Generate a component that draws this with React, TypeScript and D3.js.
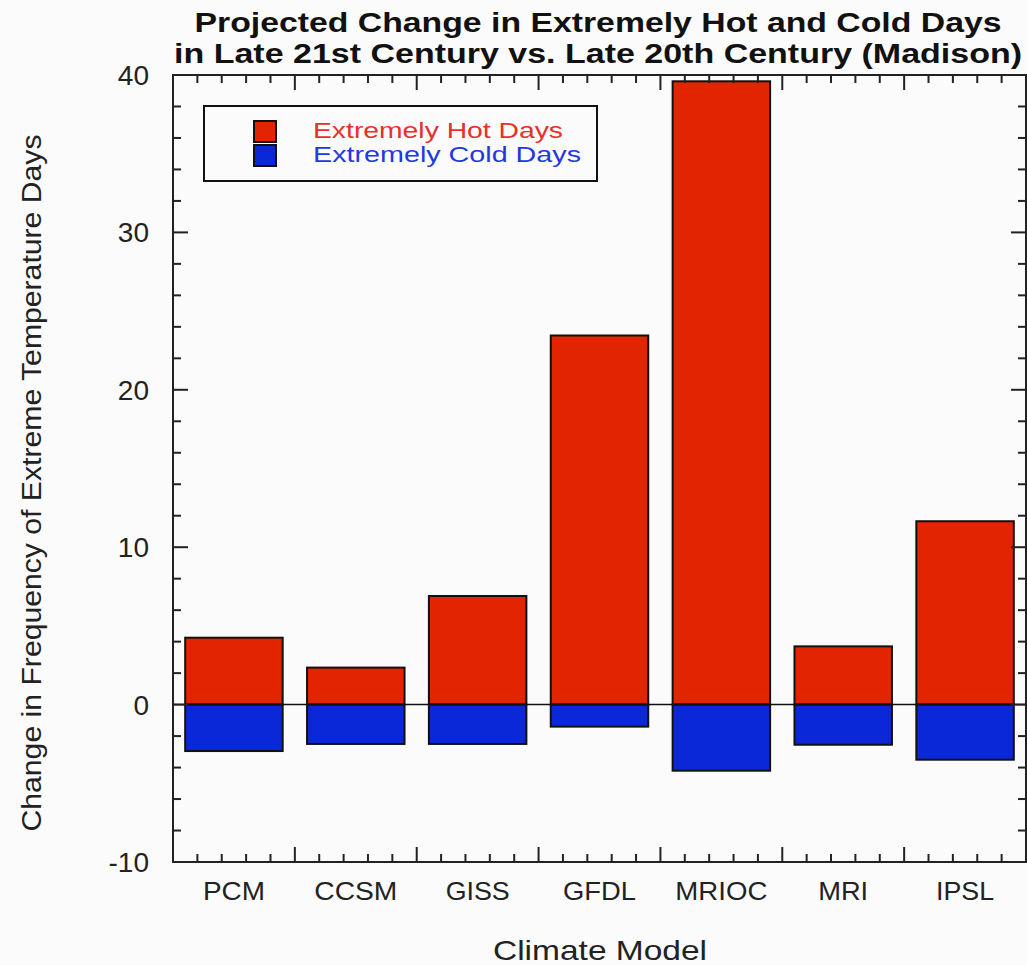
import React from "react";
import * as d3 from "d3";

// Climate models and projected change in extreme-temperature days
const models = ["PCM", "CCSM", "GISS", "GFDL", "MRIOC", "MRI", "IPSL"];
const hotDays = [4.25, 2.35, 6.9, 23.45, 39.6, 3.7, 11.65];
const coldDays = [-2.95, -2.5, -2.5, -1.4, -4.2, -2.55, -3.5];
const yTicks = [-10, 0, 10, 20, 30, 40];

const W = 1027;
const H = 965;
const M = { left: 173, right: 1026, top: 75, bottom: 862 };

const HOT = "#e22400";
const COLD = "#0a28d8";
const FONT = "'Liberation Sans', Arial, Helvetica, sans-serif";

export default function App() {
  const y = d3.scaleLinear().domain([-10, 40]).range([M.bottom, M.top]);
  const x = d3
    .scaleBand<string>()
    .domain(models)
    .range([M.left, M.right])
    .paddingInner(0.2)
    .paddingOuter(0.1);
  const xb = d3.scaleLinear().domain([0, models.length]).range([M.left, M.right]);

  // minor/major ticks along both axes
  const yMinor = d3.range(-10, 40.001, 2);
  const xMinor = d3.range(0, models.length + 0.0001, 0.2);

  const tickLines: JSX.Element[] = [];
  yMinor.forEach((v, i) => {
    const major = Math.abs(v % 10) < 1e-6;
    const len = major ? 15 : 8;
    const yy = y(v);
    tickLines.push(
      <line key={`yl${i}`} x1={M.left} x2={M.left + len} y1={yy} y2={yy} />,
      <line key={`yr${i}`} x1={M.right} x2={M.right - len} y1={yy} y2={yy} />
    );
  });
  xMinor.forEach((v, i) => {
    const major = Math.abs(v - Math.round(v)) < 1e-6;
    const len = major ? 15 : 8;
    const xx = xb(v);
    tickLines.push(
      <line key={`xb${i}`} x1={xx} x2={xx} y1={M.bottom} y2={M.bottom - len} />,
      <line key={`xt${i}`} x1={xx} x2={xx} y1={M.top} y2={M.top + len} />
    );
  });

  const labelWidths: Record<string, number> = {
    PCM: 62, CCSM: 83, GISS: 64, GFDL: 73, MRIOC: 92, MRI: 50, IPSL: 58,
  };

  return (
    <svg width={W} height={H} style={{ display: "block", position: "absolute", left: 0, top: 0 }} fontFamily={FONT}>
      <rect x={0} y={0} width={W} height={H} fill="#fbfbfb" />

      {/* title */}
      <text x={598} y={32} textAnchor="middle" fontSize={27} fontWeight="bold" fill="#111"
        textLength={807} lengthAdjust="spacingAndGlyphs">
        Projected Change in Extremely Hot and Cold Days
      </text>
      <text x={598} y={63} textAnchor="middle" fontSize={27} fontWeight="bold" fill="#111"
        textLength={848} lengthAdjust="spacingAndGlyphs">
        in Late 21st Century vs. Late 20th Century (Madison)
      </text>

      {/* bars */}
      {models.map((m, i) => (
        <g key={m} stroke="#111" strokeWidth={2}>
          <rect x={x(m)} width={x.bandwidth()} y={y(hotDays[i])} height={y(0) - y(hotDays[i])} fill={HOT} />
          <rect x={x(m)} width={x.bandwidth()} y={y(0)} height={y(coldDays[i]) - y(0)} fill={COLD} />
        </g>
      ))}

      {/* zero line */}
      <line x1={M.left} x2={M.right} y1={y(0)} y2={y(0)} stroke="#111" strokeWidth={1.5} />

      {/* frame and ticks */}
      <g stroke="#222" strokeWidth={2} fill="none">
        <rect x={M.left} y={M.top} width={M.right - M.left} height={M.bottom - M.top} />
        {tickLines}
      </g>

      {/* y tick labels */}
      {yTicks.map((t) => (
        <text key={t} x={149} y={y(t)} dy="0.36em" textAnchor="end" fontSize={28} fill="#222">
          {t}
        </text>
      ))}

      {/* x tick labels */}
      {models.map((m) => (
        <text key={m} x={(x(m) ?? 0) + x.bandwidth() / 2} y={900} textAnchor="middle" fontSize={26} fill="#222"
          textLength={labelWidths[m]} lengthAdjust="spacingAndGlyphs">
          {m}
        </text>
      ))}

      {/* axis titles */}
      <text x={600} y={960} textAnchor="middle" fontSize={28} fill="#222"
        textLength={214} lengthAdjust="spacingAndGlyphs">
        Climate Model
      </text>
      <text transform={`translate(41,${483}) rotate(-90)`} textAnchor="middle" fontSize={27} fill="#222"
        textLength={697} lengthAdjust="spacingAndGlyphs">
        Change in Frequency of Extreme Temperature Days
      </text>

      {/* legend */}
      <g>
        <rect x={204} y={106} width={393} height={75} fill="#fbfbfb" stroke="#111" strokeWidth={2} />
        <rect x={254} y={121} width={22} height={21} fill={HOT} stroke="#111" strokeWidth={2} />
        <rect x={254} y={145} width={22} height={21} fill={COLD} stroke="#111" strokeWidth={2} />
        <text x={313} y={138} fontSize={22} fill="#e8302a" textLength={250} lengthAdjust="spacingAndGlyphs">
          Extremely Hot Days
        </text>
        <text x={313} y={162} fontSize={22} fill="#2438e0" textLength={268} lengthAdjust="spacingAndGlyphs">
          Extremely Cold Days
        </text>
      </g>
    </svg>
  );
}
